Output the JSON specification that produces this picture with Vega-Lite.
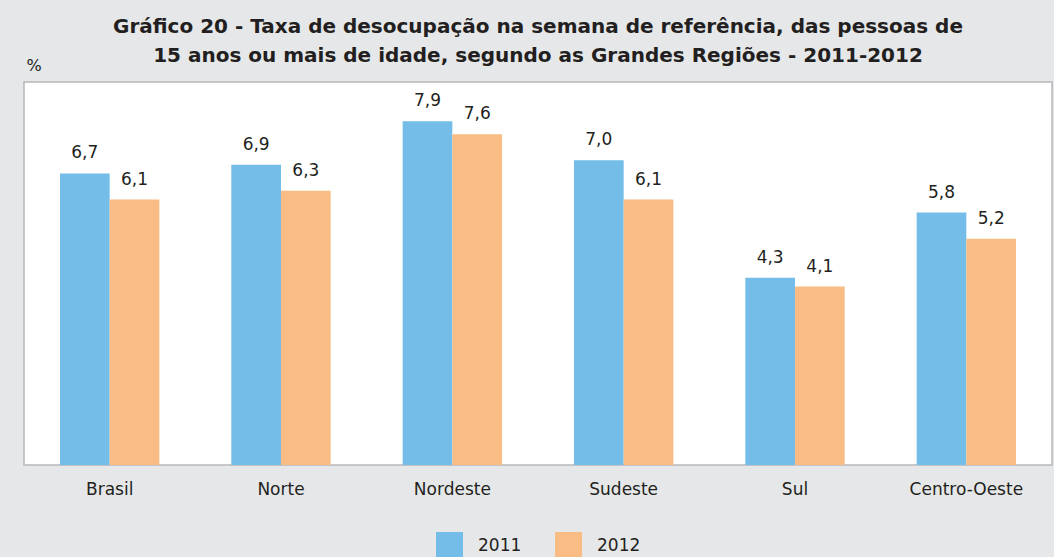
{
  "$schema": "https://vega.github.io/schema/vega-lite/v6.json",
  "width": 1028,
  "height": 383,
  "autosize": {"type": "none"},
  "padding": {"left": 24, "top": 82, "right": 2, "bottom": 92},
  "background": "#e6e7e9",
  "title": {
    "text": ["Gráfico 20 - Taxa de desocupação na semana de referência, das pessoas de", "15 anos ou mais de idade, segundo as Grandes Regiões - 2011-2012"],
    "fontSize": 20,
    "fontWeight": "bold",
    "lineHeight": 29,
    "color": "#231f20",
    "anchor": "middle",
    "offset": -9,
    "font": "DejaVu Sans"
  },
  "config": {
    "font": "DejaVu Sans",
    "locale": {"number": {"decimal": ",", "thousands": ".", "grouping": [3], "currency": ["R$", ""]}},
    "view": {"fill": "white", "stroke": "#b7b8ba", "strokeWidth": 1.5}
  },
  "data": {
    "values": [
      {"regiao": "Brasil", "ano": "2011", "taxa": 6.7},
      {"regiao": "Brasil", "ano": "2012", "taxa": 6.1},
      {"regiao": "Norte", "ano": "2011", "taxa": 6.9},
      {"regiao": "Norte", "ano": "2012", "taxa": 6.3},
      {"regiao": "Nordeste", "ano": "2011", "taxa": 7.9},
      {"regiao": "Nordeste", "ano": "2012", "taxa": 7.6},
      {"regiao": "Sudeste", "ano": "2011", "taxa": 7.0},
      {"regiao": "Sudeste", "ano": "2012", "taxa": 6.1},
      {"regiao": "Sul", "ano": "2011", "taxa": 4.3},
      {"regiao": "Sul", "ano": "2012", "taxa": 4.1},
      {"regiao": "Centro-Oeste", "ano": "2011", "taxa": 5.8},
      {"regiao": "Centro-Oeste", "ano": "2012", "taxa": 5.2}
    ]
  },
  "encoding": {
    "x": {
      "field": "regiao", "type": "nominal", "sort": null,
      "scale": {"paddingInner": 0.42, "paddingOuter": 0.21},
      "axis": {"title": null, "labelAngle": 0, "ticks": false, "domain": false, "labelFontSize": 17, "labelColor": "#231f20", "labelPadding": 16}
    },
    "xOffset": {"field": "ano", "type": "nominal"},
    "y": {
      "field": "taxa", "type": "quantitative",
      "scale": {"domain": [0, 8.8], "nice": false},
      "axis": {"title": "%", "titleAngle": 0, "titleAlign": "left", "titleBaseline": "alphabetic", "titleX": 2, "titleY": -12, "titleFontSize": 16, "titleFontWeight": "normal", "titleColor": "#231f20", "labels": false, "ticks": false, "domain": false, "grid": false}
    }
  },
  "layer": [
    {
      "mark": {"type": "bar"},
      "encoding": {
        "color": {
          "field": "ano", "type": "nominal",
          "scale": {"domain": ["2011", "2012"], "range": ["#74bde8", "#f9bc85"]},
          "legend": {"title": null, "orient": "none", "legendX": 412, "legendY": 450, "direction": "horizontal", "symbolType": "square", "symbolSize": 729, "symbolStrokeWidth": 0, "labelFontSize": 17, "labelColor": "#231f20", "labelOffset": 15, "columnPadding": 33}
        }
      }
    },
    {
      "mark": {"type": "text", "baseline": "alphabetic", "dy": -15, "fontSize": 17, "color": "#231f20"},
      "encoding": {
        "text": {"field": "taxa", "type": "quantitative", "format": ".1f"}
      }
    }
  ]
}
